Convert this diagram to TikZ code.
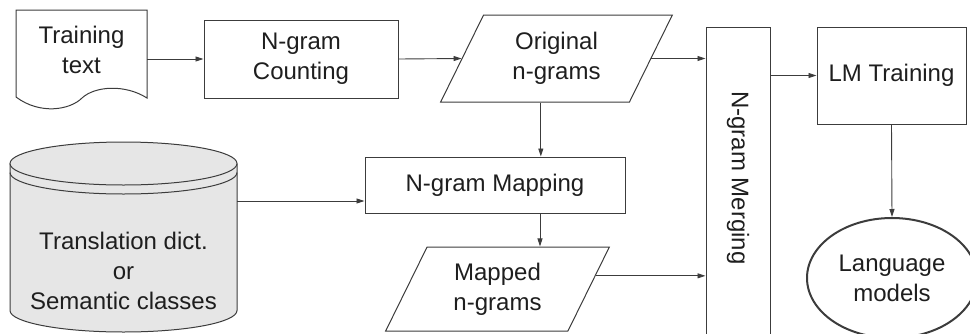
\documentclass[tikz,border=0pt]{standalone}
\usepackage{fontspec}
\setmainfont{Liberation Sans}
\usetikzlibrary{shapes.geometric,arrows.meta,calc}
\definecolor{ln}{HTML}{3C3C3C}
\definecolor{tx}{HTML}{1E1E1E}
\definecolor{dbfill}{HTML}{E6E6E6}
\begin{document}
\begin{tikzpicture}[x=1pt,y=-1pt,
  every node/.style={font=\fontsize{24}{30}\selectfont, text=tx, align=center, inner sep=0pt},
  box/.style={draw=ln, line width=1pt, rectangle},
  para/.style={draw=ln, line width=1pt, trapezium, trapezium left angle=63.7, trapezium right angle=116.3},
  arr/.style={draw=ln, line width=0.9pt, -{Triangle[length=8pt,width=5pt]}},
  shp/.style={draw=ln, line width=1pt}
]
\useasboundingbox (0,0) rectangle (970,333);

% document shape
\draw[shp, fill=white] (16,10) -- (147,10) -- (147,98) .. controls (125,84) and (95,86) .. (82,98) .. controls (70,110) and (40,115) .. (16,97) -- cycle;
\node[minimum width=131, minimum height=98] (train) at (81.5,59) {};
\node (traintxt) at (81.5,50) {Training\\text};

% cylinder
\draw[shp, fill=dbfill] (10,163.5) -- (10,310.5) .. controls (10,322.37) and (60.81,332) .. (123.5,332) .. controls (186.19,332) and (237,322.37) .. (237,310.5) -- (237,163.5);
\draw[shp, fill=dbfill] (123.5,163.5) ellipse [x radius=113.5, y radius=21.5];
\draw[shp] (10,172.5) .. controls (10,184.37) and (60.81,194) .. (123.5,194) .. controls (186.19,194) and (237,184.37) .. (237,172.5);
\node[minimum width=227, minimum height=190] (db) at (123.5,237) {};
\node (dbtxt) at (123.5,271) {Translation dict.\\or\\Semantic classes};

% boxes
\node[box, minimum width=194, minimum height=78] (count) at (301,59) {N-gram\\Counting};
\node[para, minimum width=207, minimum height=87] (orig) at (556.5,58.5) {Original\\n-grams};
\node[box, minimum width=260, minimum height=56] (map) at (495,185) {N-gram Mapping};
\node[para, minimum width=209, minimum height=84] (mapped) at (497.5,289) {Mapped\\n-grams};
\node[box, minimum width=64, minimum height=310] (merge) at (738,182) {};
\node[rotate=-90] (mergetxt) at (738,178) {N-gram Merging};
\node[box, minimum width=149, minimum height=97] (lm) at (891.5,75.5) {LM Training};
\node[ellipse, draw=ln, line width=2pt, minimum width=170, minimum height=120] (lang) at (892,278) {Language\\models};

% connectors
\coordinate (c1) at (0,201);
\coordinate (m1) at ($(mapped.top right corner)!0.345!(mapped.bottom right corner)$);
\draw[arr] (train.east) -- (count.west);
\draw[arr] (count.east) -- (orig.left side);
\draw[arr] (orig.right side) -- (orig.right side -| merge.west);
\draw[arr] ([xshift=6]orig.bottom side) -- ([xshift=6]orig.bottom side |- map.north);
\draw[arr] (db.east |- c1) -- (map.west |- c1);
\draw[arr] ([xshift=45]map.south) -- ([xshift=45]map.south |- mapped.north);
\draw[arr] (m1) -- (m1 -| merge.west);
\draw[arr] (merge.east |- lm.west) -- (lm.west);
\draw[arr] (lm.south) -- (lang.north);
\end{tikzpicture}
\end{document}
